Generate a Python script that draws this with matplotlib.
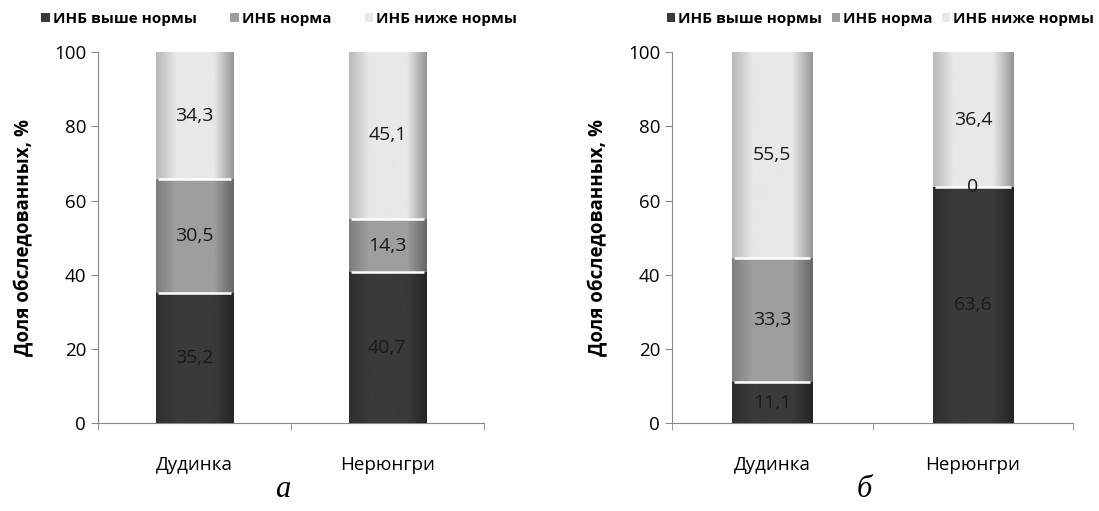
import numpy as np
import matplotlib
matplotlib.use("Agg")
import matplotlib.pyplot as plt
from matplotlib.colors import LinearSegmentedColormap

plt.rcParams['font.family'] = ['Open Sans', 'DejaVu Sans']

cities = ['Дудинка', 'Нерюнгри']
series = ['ИНБ выше нормы', 'ИНБ норма', 'ИНБ ниже нормы']

# panel а
a_above = [35.2, 40.7]
a_norm = [30.5, 14.3]
a_below = [34.3, 45.1]
# panel б
b_above = [11.1, 63.6]
b_norm = [33.3, 0]
b_below = [55.5, 36.4]

a_labels = [['35,2', '40,7'], ['30,5', '14,3'], ['34,3', '45,1']]
b_labels = [['11,1', '63,6'], ['33,3', '0'], ['55,5', '36,4']]

colors = ['#3a3a3a', '#9e9e9e', '#e8e8e8']


def shade(col):
    c = np.array(matplotlib.colors.to_rgb(col))
    return LinearSegmentedColormap.from_list(
        'g', [c * 0.8, c * 1.0, c * 1.0, c * 1.0, c * 0.65])


def stacked(ax, data, labels, panel):
    x = np.arange(len(cities))
    bottom = np.zeros(len(cities))
    handles = []
    for vals, col, name, labs in zip(data, colors, series, labels):
        vals = np.array(vals)
        bars = ax.bar(x, vals, 0.4, bottom=bottom, color=col, label=name,
                      edgecolor='none', zorder=2)
        handles.append(bars)
        grad = np.linspace(0, 1, 64).reshape(1, -1)
        for b in bars:
            if b.get_height() <= 0:
                continue
            x0, y0 = b.get_x(), b.get_y()
            im = ax.imshow(grad, cmap=shade(col), aspect='auto', zorder=3,
                           extent=(x0, x0 + b.get_width(), y0, y0 + b.get_height()))
            im.set_clip_path(b)
        # light bevel on top of each segment
        m = (vals > 0) & (bottom > 0)
        ax.hlines(bottom[m], x[m] - 0.19, x[m] + 0.19,
                  colors='white', lw=1.8, zorder=4)
        for xi, bi, v, t in zip(x, bottom, vals, labs):
            ax.text(xi, bi + v / 2, t, ha='center', va='center',
                    fontsize=14, color='#1a1a1a', zorder=5)
        bottom = bottom + vals
    ax.set_xlim(-0.5, 1.5)
    ax.set_ylim(0, 100)
    ax.set_yticks([0, 20, 40, 60, 80, 100])
    ax.set_xticks(x)
    ax.set_xticklabels(cities, fontsize=13.5)
    ax.set_xticks([-0.5, 0.5, 1.5], minor=True)
    ax.tick_params(axis='x', which='major', length=0, pad=24)
    ax.tick_params(axis='x', which='minor', length=5, color='#888888')
    ax.tick_params(axis='y', labelsize=13.5, length=5, color='#888888')
    for s in ['top', 'right']:
        ax.spines[s].set_visible(False)
    for s in ['left', 'bottom']:
        ax.spines[s].set_color('#888888')
    ax.set_ylabel('Доля обследованных, %', fontsize=13.5, fontweight='bold',
                  labelpad=14)
    ax.text(0.48, -0.18, panel, transform=ax.transAxes, ha='center', va='center',
            fontsize=22, style='italic', family='Liberation Serif')
    return handles


fig = plt.figure(figsize=(10.99, 5.11), dpi=100)
ax1 = fig.add_axes([0.0892, 0.172, 0.351, 0.726])
ax2 = fig.add_axes([0.6115, 0.172, 0.365, 0.726])

h1 = stacked(ax1, [a_above, a_norm, a_below], a_labels, 'а')
h2 = stacked(ax2, [b_above, b_norm, b_below], b_labels, 'б')

leg_kw = dict(ncol=3, frameon=False, handlelength=0.55, handleheight=0.55,
              handletextpad=0.2, columnspacing=2.2,
              prop={'size': 11, 'weight': 'bold'})
ax1.legend(h1, series, loc='center', bbox_to_anchor=(0.47, 1.09), **leg_kw)
leg_kw['columnspacing'] = 0.6
ax2.legend(h2, series, loc='center', bbox_to_anchor=(0.52, 1.09), **leg_kw)

fig.savefig('out.png', dpi=100)
